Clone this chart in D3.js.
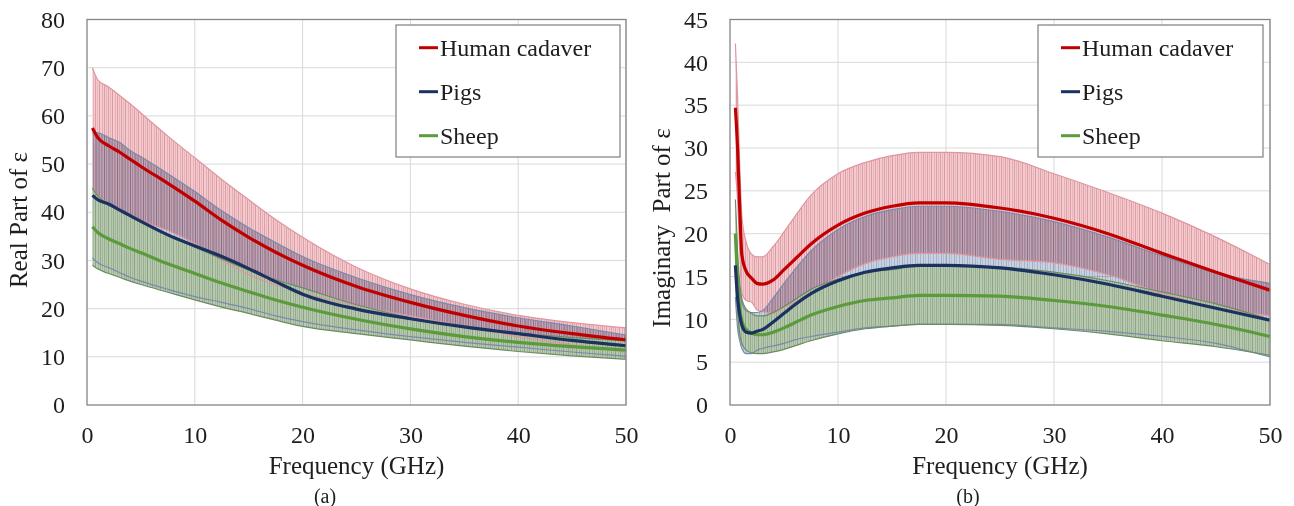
<!DOCTYPE html>
<html><head><meta charset="utf-8">
<script src="https://cdn.jsdelivr.net/npm/d3@7"></script>
<style>
body{margin:0;background:#fff}
svg{display:block}
text{font-family:"Liberation Serif","Times New Roman",serif;fill:#1e1e1e}
</style>
</head><body>
<svg id="c" width="1294" height="506"></svg>
<script>
// ---------- DATA ----------
const seriesNames = ["Human cadaver", "Pigs", "Sheep"];
const xTicks = [0, 10, 20, 30, 40, 50];
const yTicksA = [0, 10, 20, 30, 40, 50, 60, 70, 80];
const yTicksB = [0, 5, 10, 15, 20, 25, 30, 35, 40, 45];

// (a) Real part: mean, upper and lower limits of the error bars
const freqA      = [0.5, 1, 2, 3, 4, 5, 7.5, 10, 12.5, 15, 17.5, 20, 25, 30, 35, 40, 45, 50];
const humanReMean= [57.5,55.5,53.8,52.5,51,49.5,46,42.3,38.3,34.8,31.7,29,24.6,21.3,18.6,16.4,14.8,13.5];
const humanReHi  = [70,67.5,66,64.3,62.5,60.6,55.8,51.3,46.8,42.6,38.5,34.8,28.6,24.1,20.9,18.6,17.1,16];
const humanReLo  = [45,43.5,41.6,40.7,39.5,38.4,36.2,33.5,30,27,24.9,23.3,20.6,18.5,16.3,14.2,12.5,11];
const pigsReMean = [43.5,42.6,41.7,40.5,39.3,38.1,35.3,33,30.8,28.3,25.6,23,19.9,17.9,16.2,14.8,13.4,12.3];
const pigsReHi   = [56.5,56.5,55.5,54.5,52.8,51.5,48,44.3,40.3,36.8,33.7,30.8,26.4,22.9,20.2,18.1,16.4,14.5];
const pigsReLo   = [30.5,29.5,28.5,27.5,26.5,25.7,24,22.5,21.3,20,18.5,17.3,15.6,14.2,13,12,11,10.1];
const sheepReMean= [37,35.8,34.5,33.5,32.5,31.6,29.3,27.3,25.3,23.5,21.8,20.3,17.8,15.8,14.2,13,12.1,11.4];
const sheepReHi  = [45,43.4,41.7,40.5,39.3,38.2,35.2,32.8,30.3,28,26,24.3,20.8,18.1,16.2,14.9,14,13.3];
const sheepReLo  = [29,28.2,27.3,26.5,25.7,25,23.4,21.8,20.3,19,17.6,16.3,14.8,13.5,12.2,11.1,10.2,9.5];

// (b) Imaginary part
const freqB      = [0.5,0.7,0.9,1.1,1.5,2,2.5,3,4,5,6,7.5,10,12.5,15,17.5,20,25,30,35,40,45,50];
const humanImMean= [34.7,30,23,17.5,15.6,14.8,14.2,14.1,14.6,15.8,17,18.8,21,22.4,23.2,23.6,23.6,23,21.8,20,17.7,15.5,13.4];
const humanImHi  = [42.2,36,28,22,19,17.6,17.3,17.3,18.5,20.2,22,24.5,27,28.3,29.1,29.5,29.5,29,27,24.8,22.4,19.6,16.4];
const humanImLo  = [27.2,24,18,13,12.2,12,11.1,10.9,10.7,11.4,12,13.1,15,16.5,17.3,17.7,17.7,17,16.6,15.2,13,11.4,10.4];
const pigsImMean = [16.3,12.5,10.5,9.3,8.5,8.4,8.6,8.8,9.7,10.7,11.7,13,14.5,15.5,16,16.3,16.3,16,15.2,14.1,12.7,11.3,9.9];
const pigsImHi   = [20,16,13.5,12,11,10.8,10.8,11,12.5,14.2,15.8,18,20.5,22,22.8,23.2,23.2,22.6,21.4,19.6,17.4,15.4,14.2];
const pigsImLo   = [12.6,9,7.5,6.6,6,6,6.4,6.6,6.9,7.2,7.6,8,8.5,9,9.2,9.4,9.4,9.4,9,8.6,8,7.2,5.6];
const sheepImMean= [20,14.5,11.3,9.8,8.8,8.4,8.2,8.2,8.5,9,9.6,10.5,11.5,12.2,12.5,12.8,12.8,12.7,12.2,11.5,10.5,9.4,8];
const sheepImHi  = [24,18,14.3,12.4,11.2,10.7,10.4,10.4,10.8,11.5,12.3,13.5,14.7,15.5,15.8,16.2,16.2,16.1,15.5,14.5,13.2,11.8,10];
const sheepImLo  = [16,11,8.3,7.2,6.4,6.1,6,6,6.2,6.5,6.9,7.5,8.3,8.9,9.2,9.4,9.4,9.3,8.9,8.3,7.5,6.8,5.8];

// ---------- STYLE ----------
const lineColors = ["#c00000", "#1b3160", "#5b9b3b"];
const edgeColors = ["#df96a0", "#7a8aad", "#6b8c63"];

const svg = d3.select("#c");
const defs = svg.append("defs");
function stripePattern(id, bg, stripes) {
  const p = defs.append("pattern").attr("id", id).attr("patternUnits", "userSpaceOnUse")
    .attr("width", 13).attr("height", 10);
  p.append("rect").attr("width", 13).attr("height", 10).attr("fill", bg);
  stripes.forEach(s => p.append("rect").attr("x", s[0]).attr("width", 1).attr("height", 10).attr("fill", s[1]));
}
stripePattern("pH", "#f3cace", [[0,"#de9ea7"],[2,"#e8b2b8"],[4,"#df9fa8"],[6,"#e9b5bb"],[8,"#dc9aa3"],[11,"#e6aeb5"]]);
stripePattern("pP", "#c8d2e1", [[0,"#a5b1c8"],[2,"#b4bfd2"],[5,"#a1adc5"],[7,"#b0bbcf"],[10,"#a6b2c9"]]);
stripePattern("pS", "#b7c9ae", [[0,"#95ad8c"],[2,"#a3b89a"],[4,"#88a27f"],[7,"#9db394"],[9,"#91a988"],[11,"#a1b698"]]);
const fills = ["url(#pH)", "url(#pP)", "url(#pS)"];

function panel(cfg) {
  const { x, y, freq, means, his, los, yTicks } = cfg;
  const g = svg.append("g");
  const [x0, x1] = x.range(), [y0, y1] = y.range();

  // grid
  g.append("g").selectAll("line").data(xTicks.slice(1)).join("line")
    .attr("x1", d => x(d)).attr("x2", d => x(d)).attr("y1", y0).attr("y2", y1)
    .attr("stroke", "#d9d9d9").attr("stroke-width", 1);
  g.append("g").selectAll("line").data(yTicks.slice(1)).join("line")
    .attr("x1", x0).attr("x2", x1).attr("y1", d => y(d)).attr("y2", d => y(d))
    .attr("stroke", "#d9d9d9").attr("stroke-width", 1);

  const curve = d3.curveMonotoneX;
  // bands
  means.forEach((m, k) => {
    const data = freq.map((f, i) => ({ f, lo: los[k][i], hi: his[k][i] }));
    const area = d3.area().x(d => x(d.f)).y0(d => y(d.lo)).y1(d => y(d.hi)).curve(curve);
    const p = g.append("path").datum(data).attr("d", area).attr("fill", fills[k]);
    if (k === 1) p.style("mix-blend-mode", "multiply");
    if (k === 2) p.attr("opacity", 0.96);
  });
  // band edges
  means.forEach((m, k) => {
    [los[k], his[k]].forEach(arr => {
      const data = freq.map((f, i) => ({ f, v: arr[i] }));
      g.append("path").datum(data)
        .attr("d", d3.line().x(d => x(d.f)).y(d => y(d.v)).curve(curve))
        .attr("fill", "none").attr("stroke", edgeColors[k]).attr("stroke-width", 1.2);
    });
  });
  // mean lines (sheep, pigs, human)
  [2, 1, 0].forEach(k => {
    const data = freq.map((f, i) => ({ f, v: means[k][i] }));
    g.append("path").datum(data)
      .attr("d", d3.line().x(d => x(d.f)).y(d => y(d.v)).curve(curve))
      .attr("fill", "none").attr("stroke", lineColors[k]).attr("stroke-width", 3.2)
      .attr("stroke-linejoin", "round");
  });

  // border
  g.append("rect").attr("x", x0).attr("y", y1).attr("width", x1 - x0).attr("height", y0 - y1)
    .attr("fill", "none").attr("stroke", "#858585").attr("stroke-width", 1.3);

  // axes
  const ax = g.append("g").attr("transform", `translate(0,${y0})`)
    .call(d3.axisBottom(x).tickValues(xTicks).tickSize(0).tickPadding(21));
  const ay = g.append("g").attr("transform", `translate(${x0},0)`)
    .call(d3.axisLeft(y).tickValues(yTicks).tickSize(0).tickPadding(22));
  [ax, ay].forEach(a => {
    a.select(".domain").remove();
    a.selectAll("text").attr("font-size", 24).attr("font-family", '"Liberation Serif",serif').attr("fill", "#1e1e1e");
  });

  // titles
  g.append("text").attr("x", (x0 + x1) / 2).attr("y", 474).attr("text-anchor", "middle")
    .attr("font-size", 25).text("Frequency (GHz)");
  g.append("text").attr("transform", `translate(${cfg.ytX},${cfg.ytY}) rotate(-90)`)
    .attr("text-anchor", "middle").attr("font-size", 25).style("white-space", "pre").text(cfg.yTitle);
  g.append("text").attr("x", cfg.capX).attr("y", 503).attr("text-anchor", "middle")
    .attr("font-size", 20).text(cfg.caption);

  // legend
  const L = cfg.legend;
  g.append("rect").attr("x", L.x).attr("y", 25).attr("width", L.w).attr("height", 132)
    .attr("fill", "#fff").attr("stroke", "#7f7f7f").attr("stroke-width", 1.2);
  seriesNames.forEach((n, k) => {
    const ly = 47.7 + k * 44;
    g.append("line").attr("x1", L.x + 23).attr("x2", L.x + 42).attr("y1", ly).attr("y2", ly)
      .attr("stroke", lineColors[k]).attr("stroke-width", 3);
    g.append("text").attr("x", L.x + 44).attr("y", ly + 8).attr("font-size", 24).text(n);
  });
}

panel({
  x: d3.scaleLinear().domain([0, 50]).range([87, 626]),
  y: d3.scaleLinear().domain([0, 80]).range([405, 19.5]),
  freq: freqA,
  means: [humanReMean, pigsReMean, sheepReMean],
  his: [humanReHi, pigsReHi, sheepReHi],
  los: [humanReLo, pigsReLo, sheepReLo],
  yTicks: yTicksA, yTitle: "Real Part of ε", ytX: 27, ytY: 220, caption: "(a)", capX: 325,
  legend: { x: 396, w: 224 }
});
panel({
  x: d3.scaleLinear().domain([0, 50]).range([730, 1270]),
  y: d3.scaleLinear().domain([0, 45]).range([405, 19.5]),
  freq: freqB,
  means: [humanImMean, pigsImMean, sheepImMean],
  his: [humanImHi, pigsImHi, sheepImHi],
  los: [humanImLo, pigsImLo, sheepImLo],
  yTicks: yTicksB, yTitle: "Imaginary  Part of ε", ytX: 670, ytY: 228, caption: "(b)", capX: 968,
  legend: { x: 1038, w: 225 }
});
</script>
</body></html>
